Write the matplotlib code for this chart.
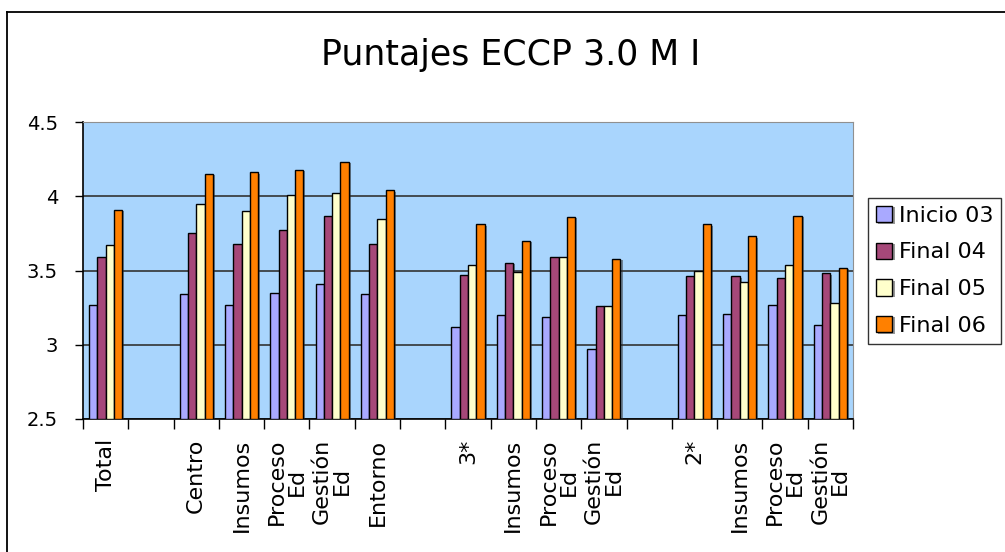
import numpy as np
import matplotlib.pyplot as plt
import matplotlib.patheffects as pe
from matplotlib.lines import Line2D

categories = ['Total', '', 'Centro', 'Insumos', 'Proceso\nEd', 'Gestión\nEd', 'Entorno', '',
              '3*', 'Insumos', 'Proceso\nEd', 'Gestión\nEd', '',
              '2*', 'Insumos', 'Proceso\nEd', 'Gestión\nEd']

inicio_03 = [3.27, np.nan, 3.34, 3.27, 3.35, 3.41, 3.34, np.nan,
             3.12, 3.20, 3.19, 2.97, np.nan, 3.20, 3.21, 3.27, 3.13]
final_04 = [3.59, np.nan, 3.75, 3.68, 3.77, 3.87, 3.68, np.nan,
            3.47, 3.55, 3.59, 3.26, np.nan, 3.46, 3.46, 3.45, 3.48]
final_05 = [3.67, np.nan, 3.95, 3.90, 4.01, 4.02, 3.85, np.nan,
            3.54, 3.49, 3.59, 3.26, np.nan, 3.50, 3.42, 3.54, 3.28]
final_06 = [3.91, np.nan, 4.15, 4.16, 4.18, 4.23, 4.04, np.nan,
            3.81, 3.70, 3.86, 3.58, np.nan, 3.81, 3.73, 3.87, 3.52]

series = [('Inicio 03', inicio_03, '#A9A9FF'),
          ('Final 04', final_04, '#A64879'),
          ('Final 05', final_05, '#FFFFCC'),
          ('Final 06', final_06, '#FF8000')]

fig = plt.figure(figsize=(10.05, 5.52), dpi=100)
ax = fig.add_axes([83 / 1005, 133 / 552, 770 / 1005, 297 / 552])
ax.set_facecolor('#A9D5FD')

x = np.arange(len(categories))
width = 0.183
shadow = [pe.SimplePatchShadow(offset=(1.5, -1), shadow_rgbFace='#303030', alpha=0.5), pe.Normal()]
for i, (name, vals, color) in enumerate(series):
    vals = np.array(vals)
    bars = ax.bar(x + (i - 1.5) * width, vals - 2.5, width, bottom=2.5, color=color,
                  edgecolor='black', linewidth=1.0, label=name, zorder=3)
    for b in bars:
        b.set_path_effects(shadow)

ax.set_xlim(-0.5, len(categories) - 0.5)
ax.set_ylim(2.5, 4.5)
ax.set_yticks([2.5, 3, 3.5, 4, 4.5])
ax.set_yticklabels(['2.5', '3', '3.5', '4', '4.5'], fontsize=14)
ax.yaxis.grid(True, color='#333333', linewidth=1.2, zorder=1)
ax.set_axisbelow(True)
ax.tick_params(axis='y', direction='out', length=6, width=1, pad=12)

ax.set_xticks(x)
ax.set_xticklabels(categories, rotation=90, fontsize=16, va='top', ha='center',
                   multialignment='center', linespacing=1.0)
ax.set_xticks(np.arange(len(categories) + 1) - 0.5, minor=True)
ax.tick_params(axis='x', which='major', length=0, pad=14)
ax.tick_params(axis='x', which='minor', direction='out', length=7, width=1)

for s in ['top', 'right']:
    ax.spines[s].set_color('#909090')
for s in ['left', 'bottom']:
    ax.spines[s].set_color('black')
    ax.spines[s].set_linewidth(1.2)

fig.text(0.508, 1 - 55 / 552, 'Puntajes ECCP 3.0 M I', fontsize=25, ha='center', va='center')

leg = fig.legend(loc='upper left', bbox_to_anchor=(868 / 1005, 1 - 198 / 552), fontsize=16,
                 frameon=True, fancybox=False, edgecolor='black', handlelength=0.75,
                 handleheight=0.75, handletextpad=0.3, labelspacing=0.75, borderpad=0.35,
                 borderaxespad=0)
leg.get_frame().set_linewidth(1.0)

# outer chart border (top and left only visible)
fig.add_artist(Line2D([7 / 1005, 7 / 1005], [0, 1 - 12 / 552], color='black', linewidth=1.3,
                      transform=fig.transFigure))
fig.add_artist(Line2D([7 / 1005, 1], [1 - 12 / 552, 1 - 12 / 552], color='black', linewidth=1.3,
                      transform=fig.transFigure))

fig.savefig('out.png', dpi=100)
